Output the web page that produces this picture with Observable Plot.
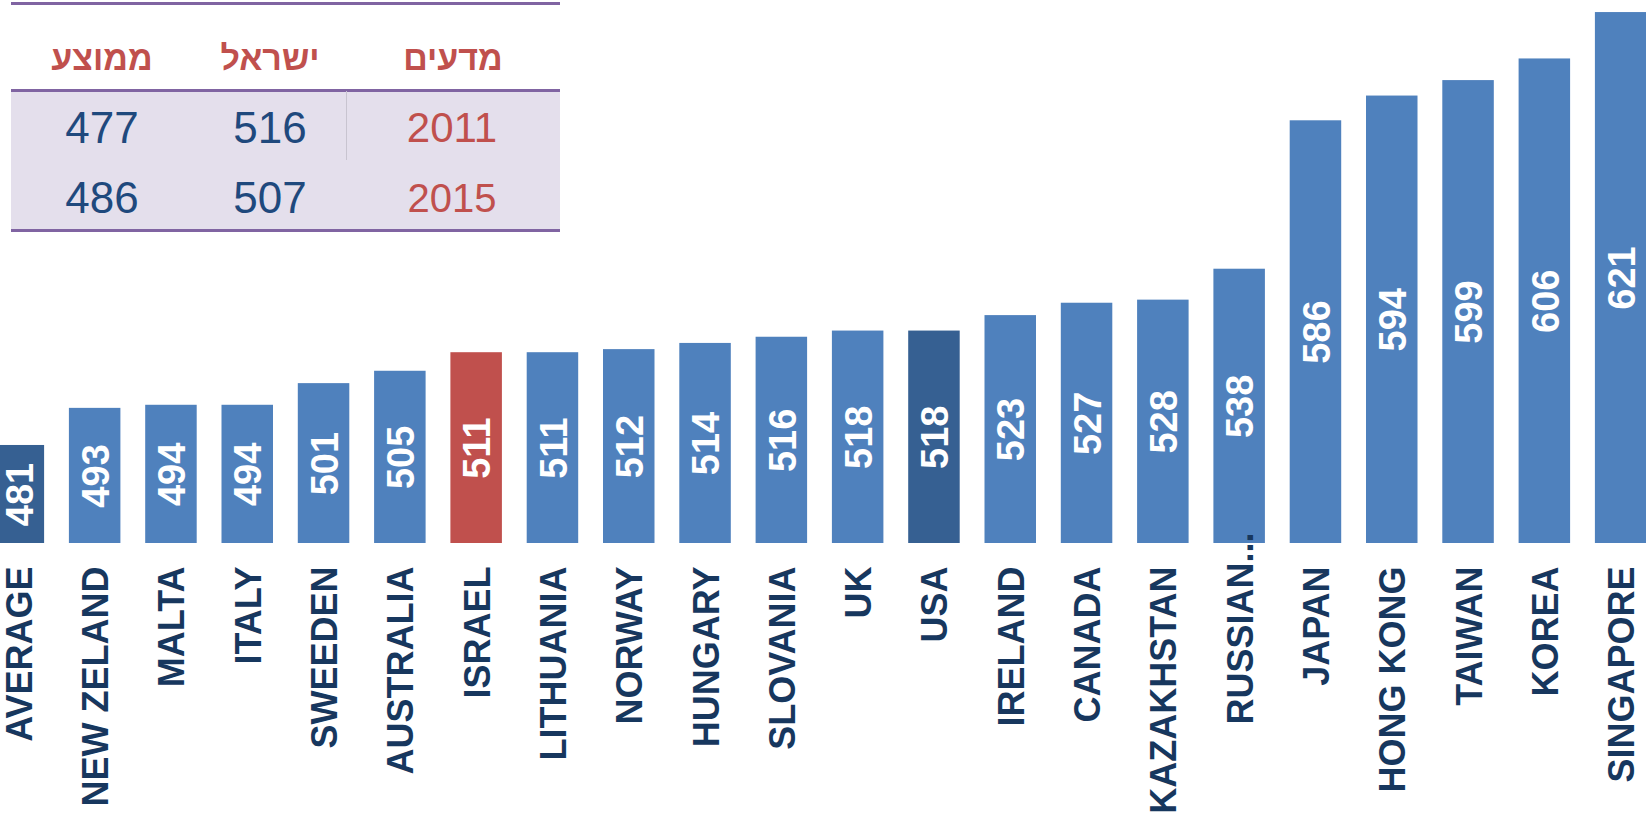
<!DOCTYPE html>
<html>
<head>
<meta charset="utf-8">
<script src="https://cdn.jsdelivr.net/npm/d3@7"></script>
<script src="https://cdn.jsdelivr.net/npm/@observablehq/plot@0.6"></script>
<style>
  html, body { margin: 0; padding: 0; background: #fff; }
  #wrap { position: relative; width: 1646px; height: 820px; overflow: hidden; font-family: "Liberation Sans", Arial, sans-serif; }
  #chart { position: absolute; left: 0; top: 0; }
  #table { position: absolute; left: 0; top: 0; width: 570px; height: 240px; }
  .cell { position: absolute; transform: translate(-50%, -50%); line-height: 1; white-space: nowrap; }
  .hline { position: absolute; left: 11px; width: 549px; background: #8064A2; }
</style>
</head>
<body>
<div id="wrap">
  <div id="chart"></div>
  <div id="table"></div>
</div>
<script>
// ---- data ----
const countries = ["AVERAGE", "NEW ZELAND", "MALTA", "ITALY", "SWEEDEN", "AUSTRALIA", "ISRAEL", "LITHUANIA", "NORWAY", "HUNGARY", "SLOVANIA", "UK", "USA", "IRELAND", "CANADA", "KAZAKHSTAN", "RUSSIAN...", "JAPAN", "HONG KONG", "TAIWAN", "KOREA", "SINGAPORE"];
const scores = [481, 493, 494, 494, 501, 505, 511, 511, 512, 514, 516, 518, 518, 523, 527, 528, 538, 586, 594, 599, 606, 621];
const kinds = ["dark", "base", "base", "base", "base", "base", "israel", "base", "base", "base", "base", "base", "dark", "base", "base", "base", "base", "base", "base", "base", "base", "base"];

const tableHeaders = ["ממוצע", "ישראל", "מדעים"];   // left-to-right on the page
const tableYears = ["2011", "2015"];
const tableIsrael = [516, 507];
const tableAverage = [477, 486];

// ---- style ----
const palette = {base: "#4F81BD", dark: "#366092", israel: "#C0504D"};
const yMin = 449.3, yMax = 624.9;
const labelColor = "#17375E";
const font = "Liberation Sans, Arial, sans-serif";

const data = countries.map((name, i) => ({name, value: scores[i], kind: kinds[i]}));
const isTrunc = d => d.name.endsWith("...");

const chart = Plot.plot({
  width: 1646,
  height: 820,
  marginTop: 0,
  marginBottom: 277,
  marginLeft: 0,
  marginRight: 0,
  style: {fontFamily: font, overflow: "visible"},
  x: {type: "band", domain: countries, range: [-32.2, 1671.2], padding: 0.325, round: false, axis: null},
  y: {domain: [yMin, yMax], range: [543, 0], axis: null},
  color: {type: "identity"},
  marks: [
    Plot.barY(data, {x: "name", y1: yMin, y2: "value", fill: d => palette[d.kind]}),
    Plot.text(data, {
      x: "name", y: d => (d.value + yMin) / 2, text: d => String(d.value),
      rotate: -90, fill: "white", fontSize: 38, fontWeight: "bold", dx: 1.5
    }),
    Plot.text(data, {
      filter: d => !isTrunc(d),
      x: "name", y: yMin, text: "name", rotate: -90, textAnchor: "end",
      dx: 1.5, dy: 23, fill: labelColor, fontSize: 36, fontWeight: "bold"
    }),
    Plot.text(data, {
      filter: isTrunc,
      x: "name", y: yMin, text: "name", rotate: -90, textAnchor: "end",
      dx: 1.5, dy: -11, fill: labelColor, fontSize: 36, fontWeight: "bold"
    })
  ]
});
document.getElementById("chart").appendChild(chart);

// ---- inset table ----
const tbl = document.getElementById("table");
function add(html) { tbl.insertAdjacentHTML("beforeend", html); }
add(`<div style="position:absolute;left:11px;top:91px;width:549px;height:138px;background:#E4DFEC"></div>`);
add(`<div class="hline" style="top:2px;height:2.5px"></div>`);
add(`<div class="hline" style="top:89px;height:2.5px"></div>`);
add(`<div class="hline" style="top:229px;height:2.5px"></div>`);
add(`<div style="position:absolute;left:346px;top:91px;width:1px;height:69px;background:#C8C4D0"></div>`);
const colX = [102, 270, 453];
const rowY = [127.5, 197.5];
tableHeaders.forEach((h, i) => add(`<div class="cell" dir="rtl" style="left:${colX[i]}px;top:58px;color:#C0504D;font-weight:bold;font-size:34px">${h}</div>`));
tableYears.forEach((yr, r) => {
  add(`<div class="cell" style="left:${colX[0]}px;top:${rowY[r]}px;color:#1F497D;font-size:44px">${tableAverage[r]}</div>`);
  add(`<div class="cell" style="left:${colX[1]}px;top:${rowY[r]}px;color:#1F497D;font-size:44px">${tableIsrael[r]}</div>`);
  add(`<div class="cell" style="left:${colX[2] - 1}px;top:${rowY[r]}px;color:#C0504D;font-size:${r === 0 ? 42 : 40}px">${yr}</div>`);
});
</script>
</body>
</html>
